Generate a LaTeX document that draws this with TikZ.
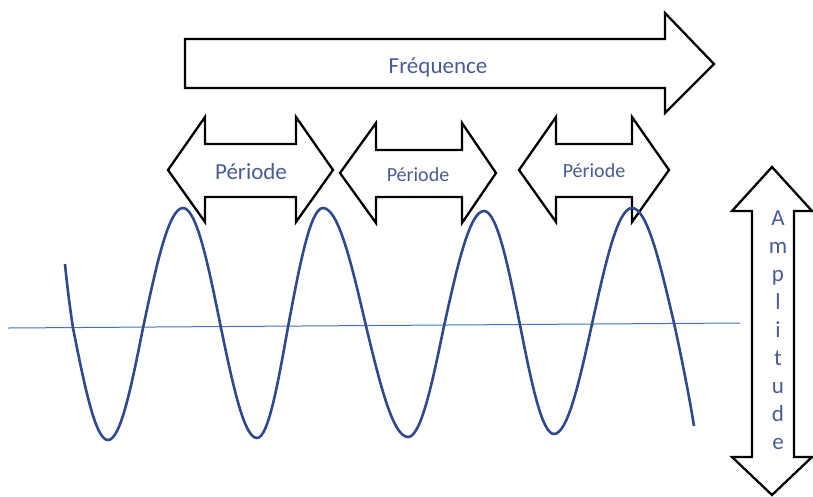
\documentclass[tikz,border=0pt]{standalone}
\usepackage{fontspec}
\setmainfont{Carlito}
\definecolor{textc}{RGB}{74,92,146}
\definecolor{wavec}{RGB}{47,74,138}
\definecolor{linec}{RGB}{68,114,196}
\begin{document}
\begin{tikzpicture}[x=1pt,y=-1pt,
  bigarrow/.style={draw=black,line width=2.3pt,line join=miter},
  wave/.style={draw=wavec,line width=2.6pt},
  hline/.style={draw=linec,line width=1pt},
  lbl/.style={text=textc,inner sep=0pt}]
\useasboundingbox (0,0) rectangle (813,496);
% horizontal axis
\coordinate (hl) at (8,328);
\coordinate (hr) at (740,323);
\draw[hline] (hl) -- (hr);
% Frequence arrow
\draw[bigarrow] (185,39) -- (665,39) -- (665,13) -- (714,64) -- (665,113) -- (665,88) -- (185,88) -- cycle;
\node[lbl,anchor=base,font=\fontsize{23}{28}\selectfont] (freq) at (438,73) {Fréquence};
% Periode arrows
\draw[bigarrow] (168,170) -- (205,117) -- (205,144) -- (296,144) -- (296,117) -- (333,170) -- (296,222) -- (296,197) -- (205,197) -- (205,222) -- cycle;
\node[lbl,anchor=base,font=\fontsize{23}{28}\selectfont] (p1) at (251,179) {Période};
\draw[bigarrow] (340,173) -- (376,123) -- (376,150) -- (462,150) -- (462,123) -- (496,173) -- (462,223) -- (462,197) -- (376,197) -- (376,223) -- cycle;
\node[lbl,anchor=base,font=\fontsize{20}{24}\selectfont] (p2) at (418,181) {Période};
\draw[bigarrow] (519,170) -- (556,117) -- (556,144) -- (632,144) -- (632,117) -- (669,170) -- (632,222) -- (632,197) -- (556,197) -- (556,222) -- cycle;
\node[lbl,anchor=base,font=\fontsize{20}{24}\selectfont] (p3) at (594,177) {Période};
% Amplitude arrow
\draw[bigarrow] (772,167) -- (812,211) -- (794,211) -- (794,457) -- (812,457) -- (772,495) -- (732,457) -- (752,457) -- (752,211) -- (732,211) -- cycle;
\node[lbl,align=center,font=\fontsize{23}{28}\selectfont] (amp) at (778,330) {A\\m\\p\\l\\i\\t\\u\\d\\e};
% wave
\draw[wave] (65,264) .. controls (67,285) and (70,308) .. (73,328)
  sin (108,440) cos (143,328) sin (183,208) cos (221,328)
  sin (257,438) cos (288,327) sin (323,208) cos (366,326)
  sin (408,437) cos (444,326) sin (484,211) cos (520,325)
  sin (554,434) cos (592,324) sin (632,208) cos (674,323)
  .. controls (682,360) and (689,395) .. (694,426);
\end{tikzpicture}
\end{document}
